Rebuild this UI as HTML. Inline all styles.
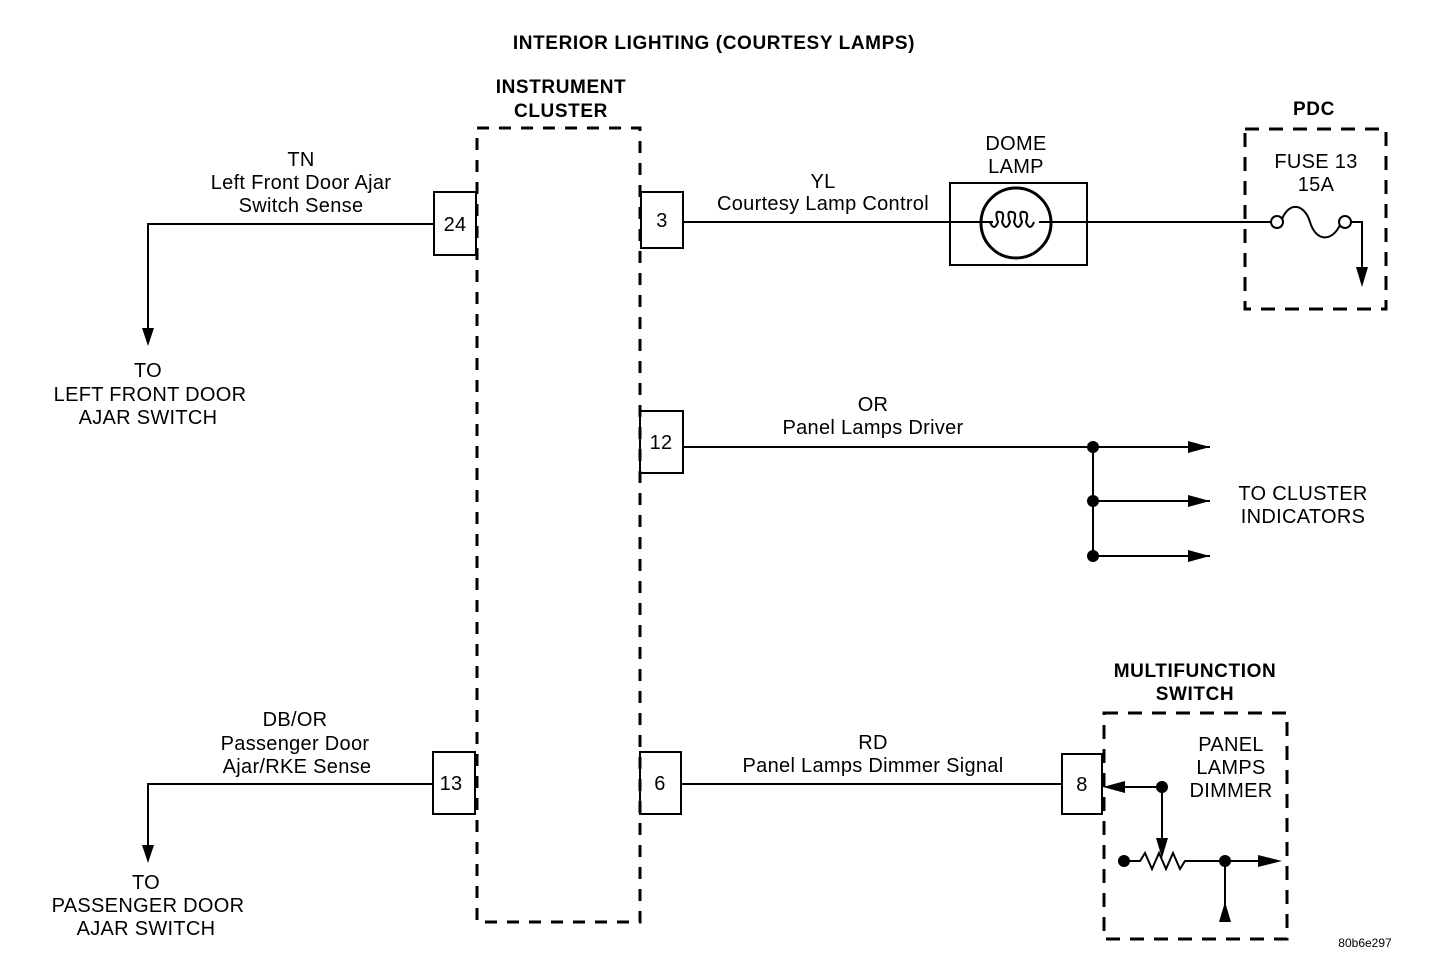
<!DOCTYPE html>
<html><head><meta charset="utf-8"><style>
html,body{margin:0;padding:0;background:#fff}
svg{display:block}
text{font-family:"Liberation Sans",Arial,sans-serif;fill:#000}
.b{font-weight:bold;font-size:19px;letter-spacing:0.6px}
.n{font-size:20px;letter-spacing:0.3px}
</style></head><body>
<svg width="1456" height="964" viewBox="0 0 1456 964" xmlns="http://www.w3.org/2000/svg">
<g stroke="#000" fill="none" stroke-width="2">
<rect x="477" y="128" width="163" height="794" stroke-width="3" stroke-dasharray="12,10"/>
<rect x="1245" y="129" width="141" height="180" stroke-width="3" stroke-dasharray="14,10"/>
<rect x="1104" y="713" width="183" height="226" stroke-width="3" stroke-dasharray="14,10"/>
<rect x="434" y="192" width="42" height="63"/>
<rect x="641" y="192" width="42" height="56"/>
<rect x="640" y="411" width="43" height="62"/>
<rect x="433" y="752" width="42" height="62"/>
<rect x="640" y="752" width="41" height="62"/>
<rect x="1062" y="754" width="40" height="60"/>
<path d="M434,224 H148 V338"/>
<path d="M433,784 H148 V855"/>
<path d="M683,222 H1245"/>
<rect x="950" y="183" width="137" height="82" fill="#fff"/>
<circle cx="1016" cy="223" r="35" fill="#fff" stroke-width="3"/>
<path d="M950,222 H993 M1039,222 H1087"/>
<path d="M990,222 q4,10 8,0 q-4,-12 2,-10 q5,0 2,10 q4,10 8,0 q-4,-12 2,-10 q5,0 2,10 q4,10 8,0 q-4,-12 2,-10 q5,0 2,10 q4,10 8,0" stroke-width="2"/>
<path d="M1245,222 H1271"/>
<circle cx="1277" cy="222" r="6" fill="#fff"/>
<circle cx="1345" cy="222" r="6" fill="#fff"/>
<path d="M1282,219 C1290,200 1305,205 1310,222 C1316,242 1332,242 1340,225"/>
<path d="M1351,222 H1362 V278"/>
<path d="M683,447 H1093 V556"/>
<path d="M1093,447 H1210"/>
<path d="M1093,501 H1210"/>
<path d="M1093,556 H1210"/>
<path d="M681,784 H1062"/>
<path d="M1162,787 H1118"/>
<path d="M1162,787 V845"/>
<path d="M1123,861 H1140 l5,-8 l7,16 l7,-16 l7,16 l7,-16 l7,16 l5,-8 H1262"/>
<path d="M1225,861 V922"/>
</g>
<g fill="#000">
<path d="M142,328 L154,328 L148,346 z"/>
<path d="M142,845 L154,845 L148,863 z"/>
<path d="M1356,267 L1368,267 L1362,287 z"/>
<path d="M1188,441 L1210,447 L1188,453 z"/>
<path d="M1188,495 L1210,501 L1188,507 z"/>
<path d="M1188,550 L1210,556 L1188,562 z"/>
<path d="M1125,781 L1103,787 L1125,793 z"/>
<path d="M1156,838 L1168,838 L1162,858 z"/>
<path d="M1258,855 L1282,861 L1258,867 z"/>
<path d="M1219,922 L1231,922 L1225,902 z"/>
<circle cx="1093" cy="447" r="6"/>
<circle cx="1093" cy="501" r="6"/>
<circle cx="1093" cy="556" r="6"/>
<circle cx="1162" cy="787" r="6"/>
<circle cx="1124" cy="861" r="6"/>
<circle cx="1225" cy="861" r="6"/>
</g>
<text class="b" x="714" y="49" text-anchor="middle">INTERIOR LIGHTING (COURTESY LAMPS)</text>
<text class="b" x="561" y="93" text-anchor="middle">INSTRUMENT</text>
<text class="b" x="561" y="117" text-anchor="middle">CLUSTER</text>
<text class="b" x="1314" y="115" text-anchor="middle">PDC</text>
<text class="b" x="1195" y="677" text-anchor="middle">MULTIFUNCTION</text>
<text class="b" x="1195" y="700" text-anchor="middle">SWITCH</text>
<g class="n" text-anchor="middle">
<text x="301" y="166">TN</text>
<text x="301" y="189">Left Front Door Ajar</text>
<text x="301" y="212">Switch Sense</text>
<text x="148" y="377">TO</text>
<text x="150" y="401">LEFT FRONT DOOR</text>
<text x="148" y="424">AJAR SWITCH</text>
<text x="295" y="726">DB/OR</text>
<text x="295" y="750">Passenger Door</text>
<text x="297" y="773">Ajar/RKE Sense</text>
<text x="146" y="889">TO</text>
<text x="148" y="912">PASSENGER DOOR</text>
<text x="146" y="935">AJAR SWITCH</text>
<text x="455" y="231">24</text>
<text x="662" y="227">3</text>
<text x="661" y="449">12</text>
<text x="451" y="790">13</text>
<text x="660" y="790">6</text>
<text x="1082" y="791">8</text>
<text x="823" y="188">YL</text>
<text x="823" y="210">Courtesy Lamp Control</text>
<text x="1016" y="150">DOME</text>
<text x="1016" y="173">LAMP</text>
<text x="1316" y="168">FUSE 13</text>
<text x="1316" y="191">15A</text>
<text x="873" y="411">OR</text>
<text x="873" y="434">Panel Lamps Driver</text>
<text x="1303" y="523">INDICATORS</text>
<text x="873" y="749">RD</text>
<text x="873" y="772">Panel Lamps Dimmer Signal</text>
<text x="1231" y="751">PANEL</text>
<text x="1231" y="774">LAMPS</text>
<text x="1231" y="797">DIMMER</text>
</g>
<svg x="1200" y="485" width="200" height="15"><text class="n" x="103" y="15" text-anchor="middle">TO CLUSTER</text></svg>
<text x="1365" y="947" text-anchor="middle" style="font-size:12px">80b6e297</text>
</svg>
</body></html>
